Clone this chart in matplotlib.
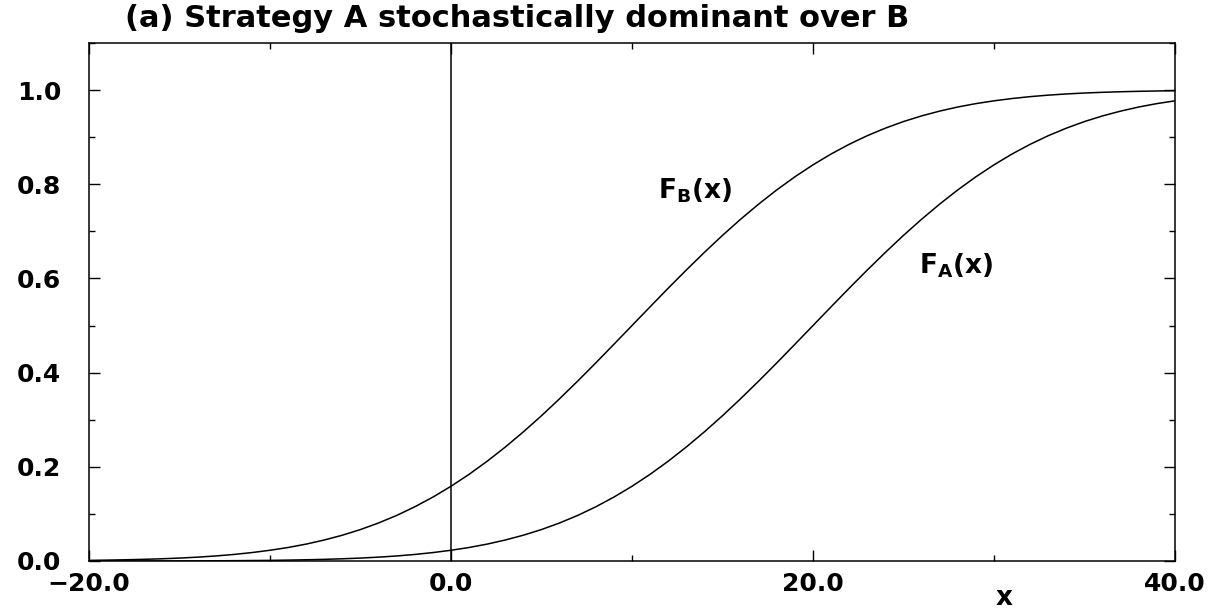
import matplotlib
matplotlib.use("Agg")
import matplotlib.pyplot as plt
from matplotlib.ticker import MultipleLocator

# values, one per unit of x (-20 .. 40)
x_vals = list(range(-20, 41))
f_b = [0.0013, 0.0019, 0.0026, 0.0035, 0.0047, 0.0062, 0.0082, 0.0107, 0.0139, 0.0179,
       0.0228, 0.0287, 0.0359, 0.0446, 0.0548, 0.0668, 0.0808, 0.0968, 0.1151, 0.1357,
       0.1587, 0.1841, 0.2119, 0.2420, 0.2743, 0.3085, 0.3446, 0.3821, 0.4207, 0.4602,
       0.5000, 0.5398, 0.5793, 0.6179, 0.6554, 0.6915, 0.7257, 0.7580, 0.7881, 0.8159,
       0.8413, 0.8643, 0.8849, 0.9032, 0.9192, 0.9332, 0.9452, 0.9554, 0.9641, 0.9713,
       0.9772, 0.9821, 0.9861, 0.9893, 0.9918, 0.9938, 0.9953, 0.9965, 0.9974, 0.9981,
       0.9987]
f_a = [0.0000, 0.0000, 0.0001, 0.0001, 0.0002, 0.0002, 0.0003, 0.0005, 0.0007, 0.0010,
       0.0013, 0.0019, 0.0026, 0.0035, 0.0047, 0.0062, 0.0082, 0.0107, 0.0139, 0.0179,
       0.0228, 0.0287, 0.0359, 0.0446, 0.0548, 0.0668, 0.0808, 0.0968, 0.1151, 0.1357,
       0.1587, 0.1841, 0.2119, 0.2420, 0.2743, 0.3085, 0.3446, 0.3821, 0.4207, 0.4602,
       0.5000, 0.5398, 0.5793, 0.6179, 0.6554, 0.6915, 0.7257, 0.7580, 0.7881, 0.8159,
       0.8413, 0.8643, 0.8849, 0.9032, 0.9192, 0.9332, 0.9452, 0.9554, 0.9641, 0.9713,
       0.9772]
x_ticks = [-20, 0, 20, 40]
x_tick_labels = ["\u221220.0", "0.0", "20.0", "40.0"]

plt.rcParams["font.family"] = ["DejaVu Sans"]
plt.rcParams["font.weight"] = "bold"
plt.rcParams["mathtext.fontset"] = "dejavusans"

fig = plt.figure(figsize=(12.17, 6.13), dpi=100)
ax = fig.add_axes([89 / 1217, 1 - 561 / 613, (1175 - 89) / 1217, (561 - 43) / 613])

ax.plot(x_vals, f_b, color="black", lw=1.1)
ax.plot(x_vals, f_a, color="black", lw=1.1)
ax.axvline(0, color="black", lw=1.1)

ax.set_xlim(-20, 40)
ax.set_ylim(0, 1.1)
ax.set_xticks(x_ticks)
ax.set_xticklabels(x_tick_labels)
ax.xaxis.set_minor_locator(MultipleLocator(10))
ax.yaxis.set_major_locator(MultipleLocator(0.2))
ax.yaxis.set_minor_locator(MultipleLocator(0.1))
ax.yaxis.set_major_formatter(plt.FormatStrFormatter("%.1f"))
ax.tick_params(which="both", direction="in", top=True, right=True, width=1)
ax.tick_params(which="major", length=8, labelsize=18)
ax.tick_params(axis="x", which="major", pad=8)
ax.tick_params(axis="y", which="major", pad=20)
ax.tick_params(which="minor", length=4.5)
for s in ax.spines.values():
    s.set_linewidth(1.1)

ax.text(13.5, 0.786, r"$\mathbf{F_B(x)}$", fontsize=19, ha="center", va="center")
ax.text(27.9, 0.628, r"$\mathbf{F_A(x)}$", fontsize=19, ha="center", va="center")

lab = ax.set_xlabel("x", fontsize=19, fontweight="bold", labelpad=0)
lab.set_va("center")
ax.xaxis.set_label_coords(0.843, -0.072)

fig.text(125 / 1217, 1 - 27 / 613, "(a) Strategy A stochastically dominant over B",
         fontsize=22, fontweight="bold", ha="left", va="baseline")

fig.savefig("out.png", dpi=100)
